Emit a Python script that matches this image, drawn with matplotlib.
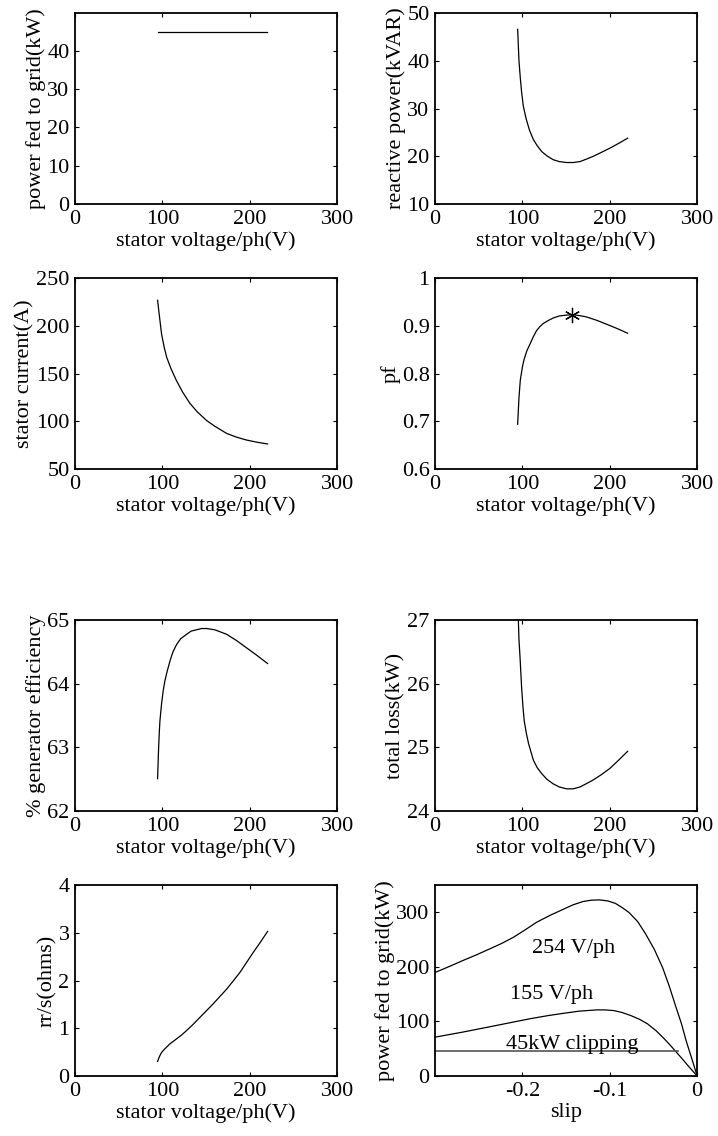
import matplotlib
matplotlib.use("Agg")
import matplotlib.pyplot as plt

plt.rcParams["font.family"] = ["Liberation Serif", "DejaVu Serif"]
plt.rcParams["font.size"] = 16
plt.rcParams["axes.linewidth"] = 1.3
plt.rcParams["xtick.direction"] = "in"
plt.rcParams["ytick.direction"] = "in"
plt.rcParams["xtick.top"] = True
plt.rcParams["ytick.right"] = True
plt.rcParams["xtick.major.size"] = 3
plt.rcParams["ytick.major.size"] = 3
plt.rcParams["xtick.major.pad"] = 4
plt.rcParams["ytick.major.pad"] = 4

# stator voltage per phase (V), x for the first seven plots
v_grid = [95, 220]
p_grid = [45, 45]

v_q = [94.5, 96, 97.5, 99, 101, 104, 108, 112.5, 117, 122, 128, 135, 142, 150.6,
       158, 166, 173, 181, 190, 200, 210, 220.4]
q_kvar = [46.6, 40, 36.5, 33.5, 30.5, 28, 25.5, 23.5, 22.2, 21.0, 20.1, 19.3, 18.9,
          18.7, 18.7, 18.9, 19.4, 20.0, 20.8, 21.7, 22.7, 23.8]

v_i = [94.5, 96, 99, 102, 105, 110, 116, 123, 131.5, 140, 150.6, 160, 173.5, 185,
       196, 208, 220.4]
i_stator = [227, 215, 192, 178, 167, 155, 143, 131, 119, 110, 101, 95, 87.5, 83.5,
            80.6, 78.3, 76.4]

v_pf = [94.5, 96, 97.5, 100, 102, 105, 108.7, 112, 116, 120, 124, 130, 135, 142,
        150.6, 158, 165, 173.5, 185, 196, 208, 220.4]
pf = [0.694, 0.75, 0.786, 0.815, 0.831, 0.848, 0.8625, 0.876, 0.890, 0.899, 0.9056,
      0.912, 0.9167, 0.921, 0.923, 0.9236, 0.922, 0.919, 0.912, 0.904, 0.895, 0.885]
pf_best_v = [157]
pf_best = [0.9236]

v_eff = [94.5, 95.2, 95.7, 96.5, 97.2, 99, 101, 102.9, 105.5, 108.7, 112, 116.3,
         121, 127.7, 133, 139, 145, 150.6, 160, 173.5, 185, 196, 208, 220.4]
eff = [62.51, 62.8, 63.0, 63.25, 63.42, 63.68, 63.9, 64.05, 64.2, 64.36, 64.5, 64.62,
       64.71, 64.78, 64.83, 64.85, 64.87, 64.87, 64.85, 64.78, 64.68, 64.57, 64.45, 64.32]

v_loss = [94.5, 95.3, 96, 97.2, 99, 100.5, 102, 104.5, 107, 112.5, 117, 122, 128, 135,
          142, 150.6, 158, 166, 173, 181, 190, 200, 210, 220.4]
loss = [27.3, 27.0, 26.7, 26.42, 25.95, 25.65, 25.42, 25.22, 25.06, 24.8, 24.68, 24.59,
        24.5, 24.43, 24.38, 24.35, 24.35, 24.38, 24.43, 24.49, 24.57, 24.67, 24.8, 24.94]

v_rr = [94.5, 96, 97.2, 99, 101, 105, 108.7, 116.3, 122, 127.7, 135, 143, 150, 158,
        165, 173.5, 181, 188.7, 196, 204, 212, 220.4]
rr_s = [0.306, 0.38, 0.43, 0.49, 0.536, 0.61, 0.675, 0.78, 0.86, 0.953, 1.08, 1.23,
        1.36, 1.51, 1.65, 1.82, 1.99, 2.17, 2.37, 2.59, 2.8, 3.03]

# power fed to grid vs slip
slip_254 = [-0.3, -0.285, -0.2685, -0.253, -0.2377, -0.224, -0.2108, -0.197, -0.1838,
            -0.168, -0.153, -0.142, -0.1308, -0.121, -0.1115, -0.102, -0.0935, -0.086,
            -0.0781, -0.068, -0.0588, -0.049, -0.0396, -0.032, -0.0242, -0.018, -0.0127,
            -0.006, 0]
p_254 = [190, 200, 211.6, 222, 233, 243, 254, 268, 282, 295, 306, 314, 320, 322.5, 323,
         321, 316.5, 309, 300, 283, 260, 232, 199, 165, 126, 96, 65, 31, 0]
slip_155 = [-0.3, -0.2685, -0.23, -0.1915, -0.17, -0.153, -0.135, -0.1146, -0.105,
            -0.0954, -0.086, -0.0762, -0.066, -0.0569, -0.047, -0.0377, -0.03, -0.0223,
            -0.016, -0.0108, -0.005, 0]
p_155 = [71.3, 80.5, 92.7, 105, 111, 115, 119, 121.3, 121.2, 120, 116.5, 111, 104, 95.7,
         83, 68.3, 55, 40.9, 29.5, 19.5, 9, 0]
slip_clip = [-0.3, -0.0215]
p_clip = [45, 45]

xlab = "stator voltage/ph(V)"
lw = 0.9

fig = plt.figure(figsize=(7.18, 11.36), dpi=100)

lefts = [0.1045, 0.606]
bottoms = [0.8204, 0.587, 0.286, 0.0528]
w, h = 0.365, 0.168

axes = [[fig.add_axes([l, b, w, h]) for l in lefts] for b in bottoms]


def volt_axis(ax, ylim, yticks, ylabel):
    ax.set_xlim(0, 300)
    ax.set_xticks([0, 100, 200, 300])
    ax.set_ylim(*ylim)
    ax.set_yticks(yticks)
    ax.set_xlabel(xlab, labelpad=2)
    ax.set_ylabel(ylabel, labelpad=1)


ax = axes[0][0]
ax.plot(v_grid, p_grid, color="k", lw=lw)
volt_axis(ax, (0, 49.8), [0, 10, 20, 30, 40], "power fed to grid(kW)")

ax = axes[0][1]
ax.plot(v_q, q_kvar, color="k", lw=lw)
volt_axis(ax, (10, 50), [10, 20, 30, 40, 50], "reactive power(kVAR)")

ax = axes[1][0]
ax.plot(v_i, i_stator, color="k", lw=lw)
volt_axis(ax, (50, 250), [50, 100, 150, 200, 250], "stator current(A)")

ax = axes[1][1]
ax.plot(v_pf, pf, color="k", lw=lw)
ax.plot(pf_best_v, pf_best, marker=(6, 2, 0), color="k", ms=11, mew=0.9, ls="none")
volt_axis(ax, (0.6, 1.0), [0.6, 0.7, 0.8, 0.9, 1.0], "pf")
ax.set_yticklabels(["0.6", "0.7", "0.8", "0.9", "1"])

ax = axes[2][0]
ax.plot(v_eff, eff, color="k", lw=lw)
volt_axis(ax, (62, 65), [62, 63, 64, 65], "% generator efficiency")

ax = axes[2][1]
ax.plot(v_loss, loss, color="k", lw=lw)
volt_axis(ax, (24, 27), [24, 25, 26, 27], "total loss(kW)")

ax = axes[3][0]
ax.plot(v_rr, rr_s, color="k", lw=lw)
volt_axis(ax, (0, 4), [0, 1, 2, 3, 4], "rr/s(ohms)")

ax = axes[3][1]
ax.plot(slip_254, p_254, color="k", lw=lw)
ax.plot(slip_155, p_155, color="k", lw=lw)
ax.plot(slip_clip, p_clip, color="#555555", lw=1.2)
ax.text(-0.1415, 233, "254 V/ph", ha="center", va="center")
ax.text(-0.1665, 150, "155 V/ph", ha="center", va="center")
ax.text(-0.1435, 57, "45kW clipping", ha="center", va="center")
ax.set_xlim(-0.3, 0)
ax.set_xticks([-0.2, -0.1, 0])
ax.set_xticklabels(["-0.2", "-0.1", "0"])
ax.set_ylim(0, 350)
ax.set_yticks([0, 100, 200, 300])
ax.set_xlabel("slip", labelpad=2)
ax.set_ylabel("power fed to grid(kW)", labelpad=1)

fig.savefig("out.png", dpi=100)
